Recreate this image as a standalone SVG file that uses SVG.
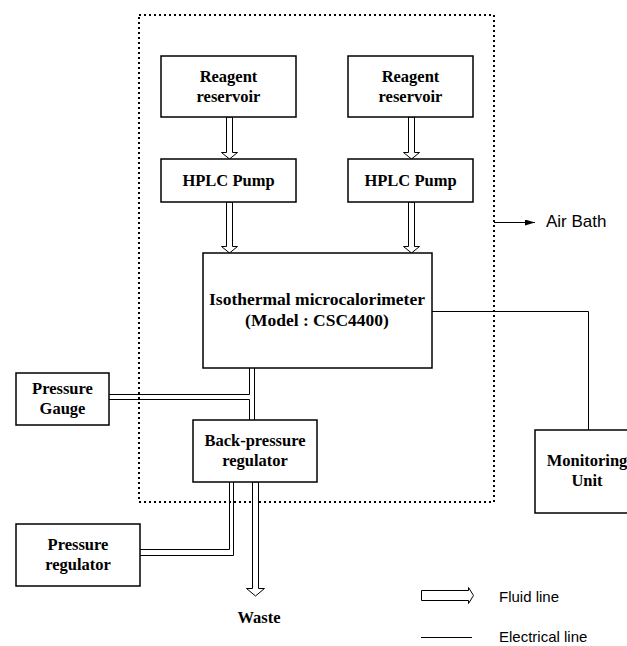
<svg xmlns="http://www.w3.org/2000/svg" width="627" height="646" viewBox="0 0 627 646">
<style>
.box{fill:#fff;stroke:#000;stroke-width:1.5}
.lbl{font-family:"Liberation Serif","Times New Roman",serif;font-weight:bold;font-size:16.5px;text-anchor:middle;fill:#000}
.sans{font-family:"Liberation Sans",Arial,sans-serif;font-size:15px;fill:#000}
.fluid{fill:#fff;stroke:#000;stroke-width:1}
.wire{fill:none;stroke:#000;stroke-width:1}
.pipe{fill:none;stroke:#000;stroke-width:1}
</style>
<defs>
<marker id="ah" markerWidth="10" markerHeight="6" refX="10" refY="3" orient="auto" markerUnits="userSpaceOnUse">
<path d="M0,0 L10,3 L0,6 Z" fill="#000"/>
</marker>
</defs>
<rect width="627" height="646" fill="#fff"/>
<g id="airbath">
<rect x="139" y="15" width="355" height="487" fill="none" stroke="#000" stroke-width="2" stroke-dasharray="2,3"/>
</g>
<g id="connectors">
<path class="fluid" d="M226.5,117 V152.5 H221.5 L229.5,159 L237.5,152.5 H232.5 V117 Z"/>
<path class="fluid" d="M408.5,117 V152.5 H403.5 L411.5,159 L419.5,152.5 H414.5 V117 Z"/>
<path class="fluid" d="M226.5,202 V246.5 H221.5 L229.5,253 L237.5,246.5 H232.5 V202 Z"/>
<path class="fluid" d="M408.5,202 V246.5 H403.5 L411.5,253 L419.5,246.5 H414.5 V202 Z"/>
<path class="fluid" d="M252.5,482 V588.5 H246.5 L255.5,596 L264.5,588.5 H258.5 V482 Z"/>
<path class="pipe" d="M249.5,368 V394.5 H109 M109,399.5 H249.5 V420 M254.5,368 V420"/>
<path class="pipe" d="M229.5,482 V549.5 H140 M140,555.5 H233.5 V482"/>
<path class="wire" d="M432,311.5 H588.5 V430"/>
<line class="wire" x1="494" y1="222.5" x2="535" y2="222.5" marker-end="url(#ah)"/>
</g>
<g id="reagent1"><rect class="box" x="161" y="56" width="135" height="61"/><text class="lbl" x="228.5" y="82">Reagent</text><text class="lbl" x="228.5" y="102">reservoir</text></g>
<g id="reagent2"><rect class="box" x="348" y="56" width="125" height="61"/><text class="lbl" x="410.5" y="82">Reagent</text><text class="lbl" x="410.5" y="102">reservoir</text></g>
<g id="pump1"><rect class="box" x="161" y="159" width="135" height="43"/><text class="lbl" x="228.5" y="186">HPLC Pump</text></g>
<g id="pump2"><rect class="box" x="348" y="159" width="125" height="43"/><text class="lbl" x="410.5" y="186">HPLC Pump</text></g>
<g id="calorimeter"><rect class="box" x="203" y="253" width="229" height="115"/><text class="lbl" x="317" y="305" style="font-size:17.5px">Isothermal microcalorimeter</text><text class="lbl" x="317" y="326" style="font-size:17.5px">(Model : CSC4400)</text></g>
<g id="gauge"><rect class="box" x="16" y="373" width="93" height="52"/><text class="lbl" x="62.5" y="394">Pressure</text><text class="lbl" x="62.5" y="414">Gauge</text></g>
<g id="bpr"><rect class="box" x="193" y="420" width="124" height="62"/><text class="lbl" x="255" y="446">Back-pressure</text><text class="lbl" x="255" y="466">regulator</text></g>
<g id="preg"><rect class="box" x="16" y="524" width="124" height="62"/><text class="lbl" x="78" y="550">Pressure</text><text class="lbl" x="78" y="570">regulator</text></g>
<g id="monitor"><rect class="box" x="535" y="430" width="100" height="83"/><text class="lbl" x="587" y="466">Monitoring</text><text class="lbl" x="587" y="486">Unit</text></g>
<g id="waste"><text class="lbl" x="259" y="623">Waste</text></g>
<g id="airbath-label"><text class="sans" x="546" y="227" style="font-size:17px">Air Bath</text></g>
<g id="legend">
<path class="fluid" d="M421.5,590.5 H468.5 V587.5 L473.5,595.5 L468.5,603.5 V600.5 H421.5 Z"/>
<text class="sans" x="499" y="602">Fluid line</text>
<line class="wire" x1="421" y1="637.5" x2="472" y2="637.5"/>
<text class="sans" x="499" y="642">Electrical line</text>
</g>
</svg>
